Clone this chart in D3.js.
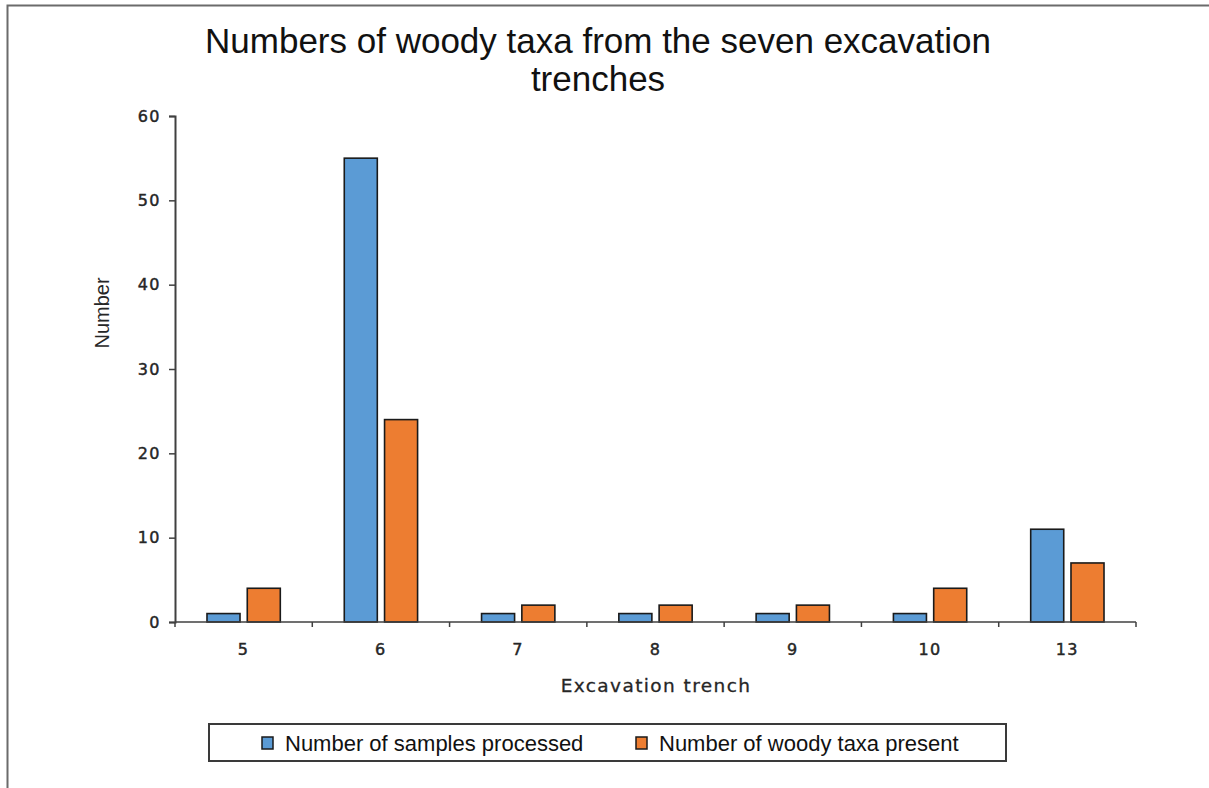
<!DOCTYPE html>
<html>
<head>
<meta charset="utf-8">
<script src="https://cdn.jsdelivr.net/npm/d3@7"></script>
<style>
  html, body { margin: 0; padding: 0; background: #fff; }
  svg { display: block; }
</style>
</head>
<body>
<svg id="chart" width="1209" height="788"></svg>
<script>
// Trench categories and the two counted series
const trenches = ["5", "6", "7", "8", "9", "10", "13"];
const samplesProcessed = [1, 55, 1, 1, 1, 1, 11];
const woodyTaxaPresent = [4, 24, 2, 2, 2, 4, 7];
const seriesNames = ["Number of samples processed", "Number of woody taxa present"];
const seriesColors = ["#5b9bd5", "#ed7d31"];
const yTicks = [0, 10, 20, 30, 40, 50, 60];

const narrow = "'Liberation Sans Narrow', 'Arial Narrow', 'Liberation Sans', sans-serif";
const sans = "'DejaVu Sans', Verdana, sans-serif";

const svg = d3.select("#chart");

// outer frame: top and left edges only
svg.append("path")
  .attr("d", "M7.5,788 V5.5 H1209")
  .attr("fill", "none")
  .attr("stroke", "#6b6b6b")
  .attr("stroke-width", 2);

const plot = { left: 175, right: 1136, top: 116, bottom: 622 };

const x0 = d3.scaleBand().domain(trenches).range([plot.left, plot.right]).padding(0);
const step = x0.bandwidth();
const x1 = d3.scaleBand().domain(seriesNames)
  .range([step * 0.233, step * 0.767]).paddingInner(0.18).paddingOuter(0);
const y = d3.scaleLinear().domain([0, 60]).range([plot.bottom, plot.top]);

// title
svg.append("text")
  .attr("font-family", narrow).attr("font-size", 35).attr("fill", "#111")
  .attr("text-anchor", "middle")
  .selectAll("tspan").data(["Numbers of woody taxa from the seven excavation", "trenches"])
  .join("tspan").attr("x", 598).attr("y", (d, i) => 53 + i * 38).text(d => d);

// bars
const rows = trenches.map((t, i) => ({ t, vals: [samplesProcessed[i], woodyTaxaPresent[i]] }));
const g = svg.append("g");
g.selectAll("g.grp").data(rows).join("g").attr("class", "grp")
  .attr("transform", d => `translate(${x0(d.t)},0)`)
  .selectAll("rect").data(d => d.vals.map((v, k) => ({ v, k })))
  .join("rect")
  .attr("x", d => x1(seriesNames[d.k]))
  .attr("y", d => y(d.v))
  .attr("width", x1.bandwidth())
  .attr("height", d => y(0) - y(d.v))
  .attr("fill", d => seriesColors[d.k])
  .attr("stroke", "#1a1a1a")
  .attr("stroke-width", 1.6);

// y axis
const yAxis = svg.append("g").attr("transform", `translate(${plot.left},0)`)
  .call(d3.axisLeft(y).tickValues(yTicks).tickSize(6).tickPadding(8).tickFormat(d3.format("d")));
yAxis.select(".domain").attr("stroke", "#404040").attr("stroke-width", 2);
yAxis.selectAll(".tick line").attr("stroke", "#404040").attr("stroke-width", 1.5);
yAxis.selectAll(".tick text").attr("font-family", sans).attr("font-size", 16)
  .attr("fill", "#262626").attr("stroke", "#262626").attr("stroke-width", 0.45)
  .attr("letter-spacing", 1.5);

// x axis: ticks sit on category boundaries
const xAxisG = svg.append("g").attr("transform", `translate(0,${plot.bottom})`);
xAxisG.append("line").attr("x1", plot.left).attr("x2", plot.right)
  .attr("stroke", "#404040").attr("stroke-width", 1.5);
const bounds = d3.range(trenches.length + 1).map(i => plot.left + i * step);
xAxisG.selectAll("line.tk").data(bounds).join("line").attr("class", "tk")
  .attr("x1", d => d).attr("x2", d => d).attr("y1", 0).attr("y2", 5)
  .attr("stroke", "#404040").attr("stroke-width", 1.5);
xAxisG.selectAll("text").data(trenches).join("text")
  .attr("x", d => x0(d) + step / 2).attr("y", 33)
  .attr("text-anchor", "middle").attr("font-family", sans).attr("font-size", 16)
  .attr("fill", "#262626").attr("stroke", "#262626").attr("stroke-width", 0.45)
  .attr("letter-spacing", 1.5).text(d => d);

// axis titles
svg.append("text").attr("x", 656).attr("y", 692).attr("text-anchor", "middle")
  .attr("font-family", sans).attr("font-size", 18.5).attr("fill", "#262626")
  .attr("stroke", "#262626").attr("stroke-width", 0.3)
  .attr("letter-spacing", 1.4).text("Excavation trench");
svg.append("text").attr("transform", "translate(109,313) rotate(-90)")
  .attr("text-anchor", "middle").attr("font-family", narrow).attr("font-size", 20)
  .attr("fill", "#262626").text("Number");

// legend
const leg = svg.append("g");
leg.append("rect").attr("x", 209).attr("y", 724).attr("width", 797).attr("height", 37)
  .attr("fill", "#fff").attr("stroke", "#3a3a3a").attr("stroke-width", 2);
const legX = [262, 636];
seriesNames.forEach((name, i) => {
  leg.append("rect").attr("x", legX[i]).attr("y", 737).attr("width", 11).attr("height", 12)
    .attr("fill", seriesColors[i]).attr("stroke", "#1a1a1a").attr("stroke-width", 1.5);
  leg.append("text").attr("x", legX[i] + 23).attr("y", 751)
    .attr("font-family", narrow).attr("font-size", 22).attr("fill", "#111").text(name);
});
</script>
</body>
</html>
